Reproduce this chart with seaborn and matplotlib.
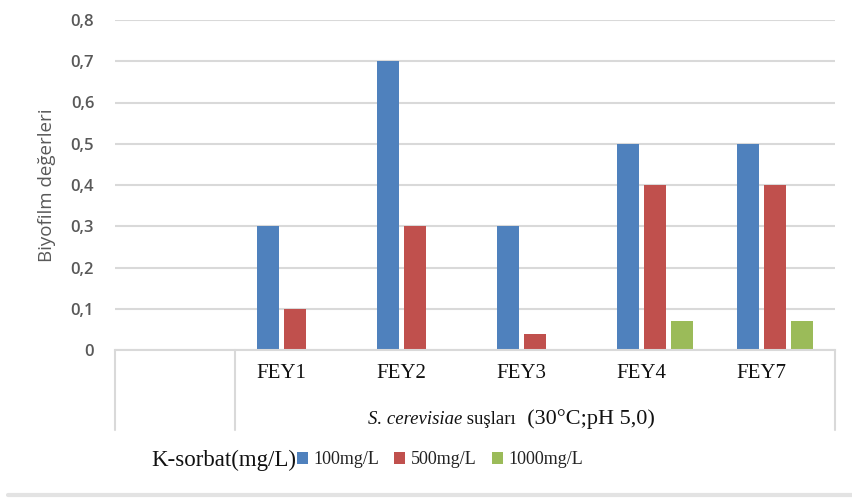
import matplotlib
matplotlib.use("Agg")
import matplotlib.pyplot as plt
import seaborn as sns
import pandas as pd
from matplotlib.lines import Line2D
from matplotlib.transforms import blended_transform_factory

# ---- data ----
strains = ["", "FEY1", "FEY2", "FEY3", "FEY4", "FEY7"]
v100 = [0, 0.3, 0.7, 0.3, 0.5, 0.5]
v500 = [0, 0.1, 0.3, 0.04, 0.4, 0.4]
v1000 = [0, 0, 0, 0, 0.07, 0.07]
series_labels = ["100mg/L", "500mg/L", "1000mg/L"]
yticks = [0, 0.1, 0.2, 0.3, 0.4, 0.5, 0.6, 0.7, 0.8]
ytick_labels = ["0", "0,1", "0,2", "0,3", "0,4", "0,5", "0,6", "0,7", "0,8"]
colors = ["#4F81BD", "#C0504D", "#9BBB59"]

df = pd.DataFrame({
    "strain": strains * 3,
    "value": v100 + v500 + v1000,
    "conc": [lab for lab in series_labels for _ in strains],
})

sns.set_theme(style="white")
plt.rcParams["font.family"] = ["Open Sans", "DejaVu Sans"]

W, H = 853, 500
fig = plt.figure(figsize=(W / 100, H / 100), dpi=100)
ax = fig.add_axes([115 / W, 150 / H, 720 / W, 330 / H])

sns.barplot(data=df, x="strain", y="value", hue="conc", order=strains,
            hue_order=series_labels, palette=colors, width=0.675, gap=0.22,
            linewidth=0, saturation=1, errorbar=None, ax=ax)

handles, labels = ax.get_legend_handles_labels()
if ax.get_legend() is not None:
    ax.get_legend().remove()

ax.set_xlim(-0.5, len(strains) - 0.5)
ax.set_ylim(0, 0.8)
ax.set_yticks(yticks, ytick_labels)
ax.tick_params(axis="y", length=0, pad=15, labelsize=12, labelcolor="#595959")
for lab in ax.get_yticklabels():
    lab.set_fontweight("semibold")
ax.tick_params(axis="x", length=0, labelbottom=False)
ax.set_xlabel("")
ax.set_ylabel("")
ax.yaxis.grid(True, color="#D9D9D9", lw=1.5)
ax.set_axisbelow(True)
for s in ["top", "right", "left"]:
    ax.spines[s].set_visible(False)
ax.spines["bottom"].set_color("#D9D9D9")
ax.spines["bottom"].set_linewidth(1.5)

trans = blended_transform_factory(ax.transData, ax.transAxes)
for xb in [-0.5, 0.5, len(strains) - 0.5]:
    ax.add_line(Line2D([xb, xb], [0, -80 / 330], transform=trans,
                       color="#D9D9D9", lw=1.5, clip_on=False))

for i, s in enumerate(strains):
    if s:
        ax.annotate(s, xy=(i, 0), xycoords=trans, xytext=(-14, -24),
                    textcoords="offset pixels", ha="center", va="center",
                    fontfamily="Liberation Serif", fontsize=15, color="#111111",
                    annotation_clip=False)

# y label
fig.text(47 / W, 1 - 185 / H, "Biyofilm değerleri", rotation=90, ha="center",
         va="center", fontsize=13.5, color="#595959")

# x label in pieces
fig.canvas.draw()
renderer = fig.canvas.get_renderer()
x0 = 368
yb = 1 - 424 / H
pieces = [("S. cerevisiae", "italic", 13.5), (" suşları", "normal", 13.5),
          ("  (30°C;pH 5,0)", "normal", 16)]
for txt, style, size in pieces:
    t = fig.text(x0 / W, yb, txt, ha="left", va="baseline",
                 fontfamily="Liberation Serif", fontstyle=style,
                 fontsize=size, color="#111111")
    bb = t.get_window_extent(renderer)
    x0 = bb.x1

# legend
fig.text(296 / W, 1 - 460 / H, "K-sorbat(mg/L)", ha="right", va="center",
         fontfamily="Liberation Serif", fontsize=16.5, color="#111111")
leg = fig.legend(handles, labels, loc="center left",
                 bbox_to_anchor=(297 / W, 1 - 460 / H), ncol=3, frameon=False,
                 borderpad=0, borderaxespad=0, handlelength=0.6,
                 handleheight=0.6, handletextpad=0.3, columnspacing=0.85,
                 prop={"family": "Liberation Serif", "size": 13})
for tx in leg.get_texts():
    tx.set_color("#222222")

fig.add_artist(Line2D([8 / W, 1], [1 - 495 / H] * 2, color="#E3E3E3", lw=3,
                      transform=fig.transFigure))

fig.savefig("out.png", dpi=100)
